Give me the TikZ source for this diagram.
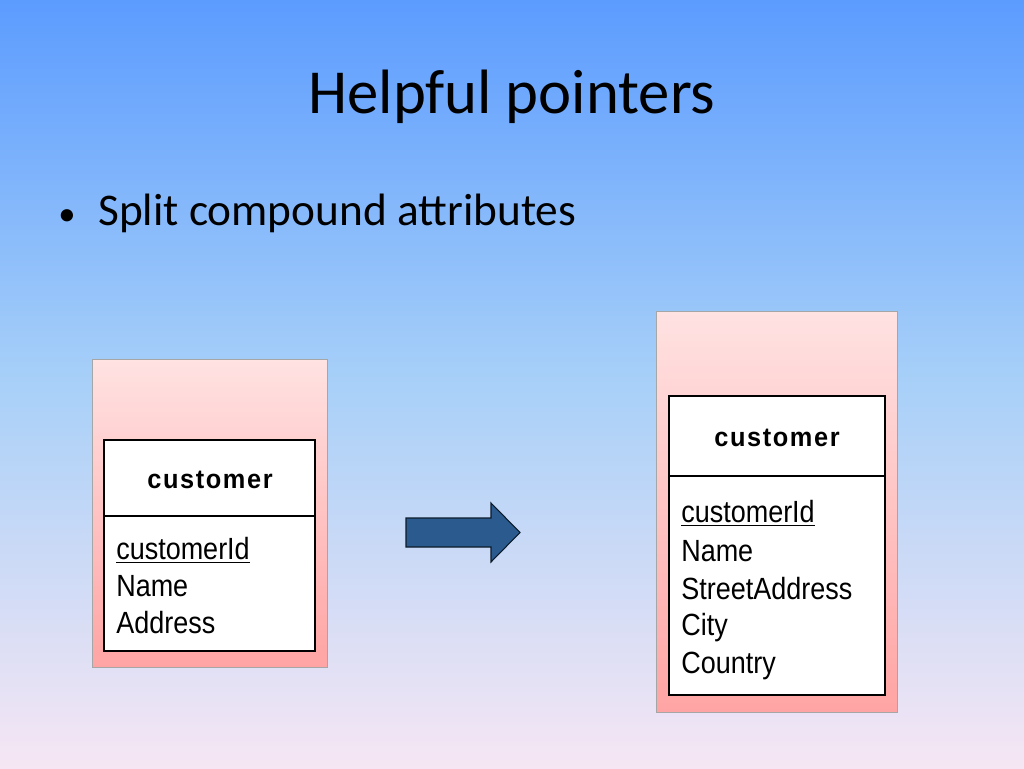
\documentclass[tikz,border=0pt]{standalone}
\usepackage{fontspec}
\setmainfont{Carlito}
\newfontfamily\boxfont[FakeStretch=0.88]{Liberation Sans}
\newfontfamily\boxbold[FakeStretch=0.95,LetterSpace=6]{Liberation Sans Bold}
\definecolor{bgtop}{HTML}{5C9CFF}
\definecolor{bgmid}{HTML}{A8D0F8}
\definecolor{bgbot}{HTML}{F6E6F4}
\definecolor{pinktop}{HTML}{FFE2E2}
\definecolor{pinkbot}{HTML}{FFA4A4}
\definecolor{arrowblue}{HTML}{2B5B8E}
\tikzset{
 outer/.style={draw=black!35, top color=pinktop, bottom color=pinkbot},
 inner/.style={draw=black, line width=1.3pt, fill=white},
 attr/.style={anchor=west, font=\boxfont\fontsize{23}{23}\selectfont, inner sep=0pt},
 hdr/.style={font=\boxbold\fontsize{20}{20}\selectfont, inner sep=0pt},
}
\begin{document}
\begin{tikzpicture}[x=0.75pt,y=-0.75pt]
\useasboundingbox (0,0) rectangle (1024,768);
\shade[top color=bgtop, bottom color=bgbot, middle color=bgmid] (0,0) rectangle (1024,768);
\node (title) at (512,97) {\fontsize{47}{47}\selectfont Helpful pointers};
\node[anchor=west, inner sep=0pt] (bul) at (58,213) {\fontsize{34}{34}\selectfont{\fontsize{26}{26}\selectfont\textbullet}\hspace{17pt}Split compound attributes};
% left
\draw[outer] (92,359) rectangle (327,667);
\draw[inner] (104,440) rectangle (315,651);
\draw[line width=1.3pt] (104,516) -- (315,516);
\node[hdr] (lh) at (210,480) {customer};
\node[attr] (l1) at (116,550) {\underline{customerId}};
\node[attr] (l2) at (116,586) {Name};
\node[attr] (l3) at (116,623) {Address};
% right
\draw[outer] (656,311) rectangle (897,712);
\draw[inner] (669,396) rectangle (885,695);
\draw[line width=1.3pt] (669,476) -- (885,476);
\node[hdr] (rh) at (777,438) {customer};
\node[attr] (r1) at (681,513) {\underline{customerId}};
\node[attr] (r2) at (681,551) {Name};
\node[attr] (r3) at (681,589) {StreetAddress};
\node[attr] (r4) at (681,628) {City};
\node[attr] (r5) at (681,666) {Country};
% arrow
\draw[fill=arrowblue, draw=black!70!arrowblue, line width=0.8pt]
 (406,518) -- (491,518) -- (491,503) -- (520,532.5) -- (491,562) -- (491,547) -- (406,547) -- cycle;
\end{tikzpicture}
\end{document}
